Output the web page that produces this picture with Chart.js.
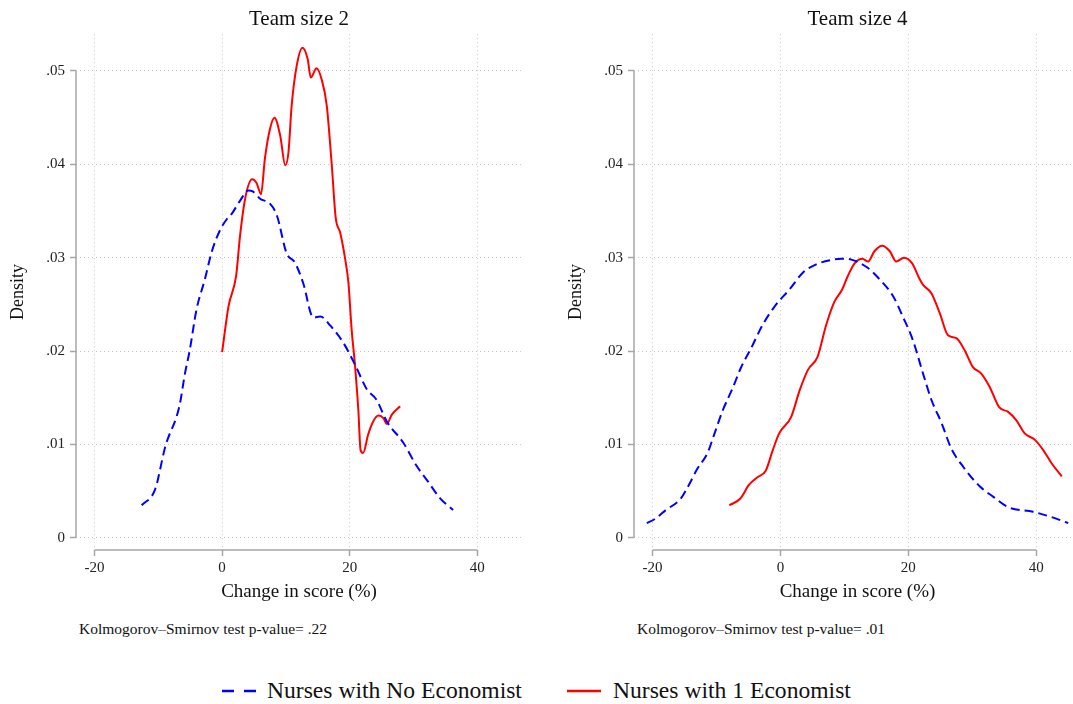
<!DOCTYPE html>
<html>
<head>
<meta charset="utf-8">
<script src="https://cdn.jsdelivr.net/npm/chart.js@4.4.1/dist/chart.umd.min.js"></script>
<style>
  html, body { margin: 0; padding: 0; background: #fff; overflow: hidden; }
  body { width: 1073px; height: 704px; position: relative; font-family: "Liberation Serif", "Times New Roman", serif; color: #111; }
  canvas { position: absolute; top: 0; }
  #size2 { left: 0; }
  #size4 { left: 558px; }
  .note { position: absolute; top: 620px; font-size: 15.5px; line-height: 18px; white-space: nowrap; }
  .leg { position: absolute; top: 676px; font-size: 23.6px; line-height: 28px; white-space: nowrap; }
  .sample { position: absolute; top: 689px; }
</style>
</head>
<body>
<canvas id="size2" width="522" height="603"></canvas>
<canvas id="size4" width="523" height="603"></canvas>

<div class="note" style="left:79px">Kolmogorov–Smirnov test p-value= .22</div>
<div class="note" style="left:637px">Kolmogorov–Smirnov test p-value= .01</div>

<svg class="sample" style="left:222px" width="34" height="4"><line x1="0" y1="2" x2="34" y2="2" stroke="#0000ff" stroke-width="2.5" stroke-dasharray="12 10"/></svg>
<div class="leg" style="left:267px">Nurses with No Economist</div>
<svg class="sample" style="left:567px" width="34" height="4"><line x1="0" y1="2" x2="34" y2="2" stroke="#ff0000" stroke-width="2.5"/></svg>
<div class="leg" style="left:613px">Nurses with 1 Economist</div>

<script>
// axis ticks
var xTicks = [-20, 0, 20, 40];
var yTicks = [0, 0.01, 0.02, 0.03, 0.04, 0.05];
var yTickLabels = ['0', '.01', '.02', '.03', '.04', '.05'];

// Team size 2
var xNone2 = [-12.6, -10.5, -8.9, -6.7, -5.8, -5.1, -4.0, -2.7, -1.6, -0.3, 0.7, 1.5, 2.8, 4.1, 4.8, 6.0, 7.5, 8.6, 10.1, 11.4, 12.7, 14.3, 15.4, 17.0, 19.0, 20.8, 22.7, 24.2, 25.8, 28.4, 30.5, 32.1, 34.1, 36.2];
var yNone2 = [.0035, .0052, .0098, .0141, .0177, .0200, .0245, .0277, .0307, .0330, .0341, .0347, .0361, .0372, .0371, .0363, .0358, .0345, .0305, .0295, .0273, .0236, .0237, .0227, .0209, .0186, .0159, .0148, .0125, .0102, .0077, .0062, .0043, .0030];
var xOne2 = [0, 1.0, 2.2, 2.8, 3.6, 4.7, 5.4, 6.1, 6.7, 7.5, 8.2, 9.1, 9.9, 10.4, 10.9, 11.7, 12.6, 13.4, 13.9, 14.8, 15.6, 16.4, 17.2, 17.8, 18.5, 19.3, 19.8, 20.3, 20.8, 21.35, 21.7, 22.1, 22.9, 23.7, 24.5, 25.3, 25.8, 26.6, 27.9];
var yOne2 = [.0199, .0248, .0281, .0323, .0363, .0384, .0380, .0368, .0406, .0438, .0450, .0431, .0399, .0413, .0463, .0506, .0525, .0513, .0493, .0503, .0491, .0463, .0398, .0343, .0327, .0298, .0273, .0223, .0187, .0137, .0094, .0091, .0111, .0125, .0131, .0128, .0122, .0132, .0141];

// Team size 4
var xNone4 = [-20.9, -19.7, -17.9, -15.6, -14.3, -13.0, -11.4, -10.3, -9.0, -7.5, -6.2, -4.6, -2.8, -0.9, 1.4, 3.5, 5.6, 8.2, 9.5, 11.1, 13.7, 15.5, 17.6, 19.2, 20.7, 22.3, 23.6, 25.2, 26.7, 28.6, 31.2, 33.3, 35.6, 39.5, 42.1, 45.0];
var yNone4 = [.0016, .0020, .0030, .0042, .0057, .0074, .0091, .0112, .0137, .0160, .0182, .0203, .0228, .0248, .0266, .0284, .0293, .0298, .0299, .0298, .0289, .0277, .0259, .0236, .0212, .0176, .0148, .0123, .0096, .0076, .0055, .0044, .0033, .0028, .0023, .0016];
var xOne4 = [-8.0, -6.3, -4.9, -3.6, -2.3, -1.2, -0.2, 1.7, 3.0, 4.3, 5.8, 7.15, 8.45, 9.65, 10.5, 11.6, 12.8, 13.7, 14.7, 15.9, 17.1, 18.1, 19.3, 20.6, 21.7, 22.3, 23.6, 24.9, 26.2, 27.5, 28.8, 30.1, 31.4, 32.7, 34.2, 35.6, 36.9, 38.2, 39.8, 41.1, 42.4, 44.0];
var yOne4 = [.0035, .0042, .0057, .0065, .0072, .0094, .0112, .0130, .0158, .0180, .0194, .0228, .0253, .0266, .0280, .0294, .0299, .0296, .0307, .0313, .0307, .0296, .0300, .0294, .0278, .0271, .0262, .0241, .0217, .0214, .0201, .0183, .0176, .0162, .0140, .0135, .0126, .0112, .0105, .0094, .0080, .0066];

var serif = '"Liberation Serif", "Times New Roman", serif';
var axisGray = '#a6a6a6';

function pts(xs, ys) {
    return xs.map(function(x, i) { return { x: x, y: ys[i] }; });
}

// Stata-style axis lines that only span the labelled range
var axisLines = {
    id: 'axisLines',
    beforeDatasetsDraw: function(chart) {
        var ctx = chart.ctx, a = chart.chartArea, x = chart.scales.x, y = chart.scales.y;
        ctx.save();
        ctx.strokeStyle = axisGray;
        ctx.lineWidth = 1.5;
        ctx.beginPath();
        ctx.moveTo(a.left, y.getPixelForValue(yTicks[0]));
        ctx.lineTo(a.left, y.getPixelForValue(yTicks[yTicks.length - 1]));
        ctx.moveTo(x.getPixelForValue(xTicks[0]), a.bottom);
        ctx.lineTo(x.getPixelForValue(xTicks[xTicks.length - 1]), a.bottom);
        ctx.stroke();
        ctx.restore();
    }
};

function makeChart(id, title, xNone, yNone, xOne, yOne) {
    var ctx = document.getElementById(id).getContext('2d');
    return new Chart(ctx, {
        type: 'line',
        data: {
            datasets: [{
                label: 'Nurses with No Economist',
                data: pts(xNone, yNone),
                borderColor: '#0000ff',
                borderWidth: 2,
                borderDash: [9, 5],
                pointRadius: 0,
                cubicInterpolationMode: 'monotone'
            }, {
                label: 'Nurses with 1 Economist',
                data: pts(xOne, yOne),
                borderColor: '#ff0000',
                borderWidth: 2,
                pointRadius: 0,
                cubicInterpolationMode: 'monotone'
            }]
        },
        options: {
            responsive: false,
            animation: false,
            layout: { padding: 0 },
            plugins: {
                legend: { display: false },
                tooltip: { enabled: false },
                title: {
                    display: true,
                    text: title,
                    fullSize: false,
                    color: '#111',
                    font: { family: serif, size: 21, weight: 'normal' },
                    padding: { top: 7, bottom: 2 }
                }
            },
            scales: {
                x: {
                    type: 'linear',
                    min: -22.9,
                    max: 47.0,
                    afterBuildTicks: function(s) { s.ticks = xTicks.map(function(v) { return { value: v }; }); },
                    afterFit: function(s) { s.height = 53; },
                    grid: { color: '#c8c8c8', lineWidth: 1, tickLength: 6, tickColor: axisGray, tickWidth: 1.5 },
                    border: { display: false, dash: [1, 3] },
                    ticks: { color: '#222', font: { family: serif, size: 15 }, padding: 3, maxRotation: 0 },
                    title: { display: true, text: 'Change in score (%)', color: '#111', font: { family: serif, size: 19 }, padding: { top: 0, bottom: 0 } }
                },
                y: {
                    min: -0.00129,
                    max: 0.05394,
                    afterBuildTicks: function(s) { s.ticks = yTicks.map(function(v) { return { value: v }; }); },
                    afterFit: function(s) { s.width = 76; },
                    grid: { color: '#c8c8c8', lineWidth: 1, tickLength: 6, tickColor: axisGray, tickWidth: 1.5 },
                    border: { display: false, dash: [1, 3] },
                    ticks: {
                        color: '#222',
                        font: { family: serif, size: 15 },
                        padding: 5,
                        callback: function(v, i) { return yTickLabels[i]; }
                    },
                    title: { display: true, text: 'Density', color: '#111', font: { family: serif, size: 18 }, padding: { top: 7, bottom: 0 } }
                }
            }
        },
        plugins: [axisLines]
    });
}

makeChart('size2', 'Team size 2', xNone2, yNone2, xOne2, yOne2);
makeChart('size4', 'Team size 4', xNone4, yNone4, xOne4, yOne4);
</script>
</body>
</html>
